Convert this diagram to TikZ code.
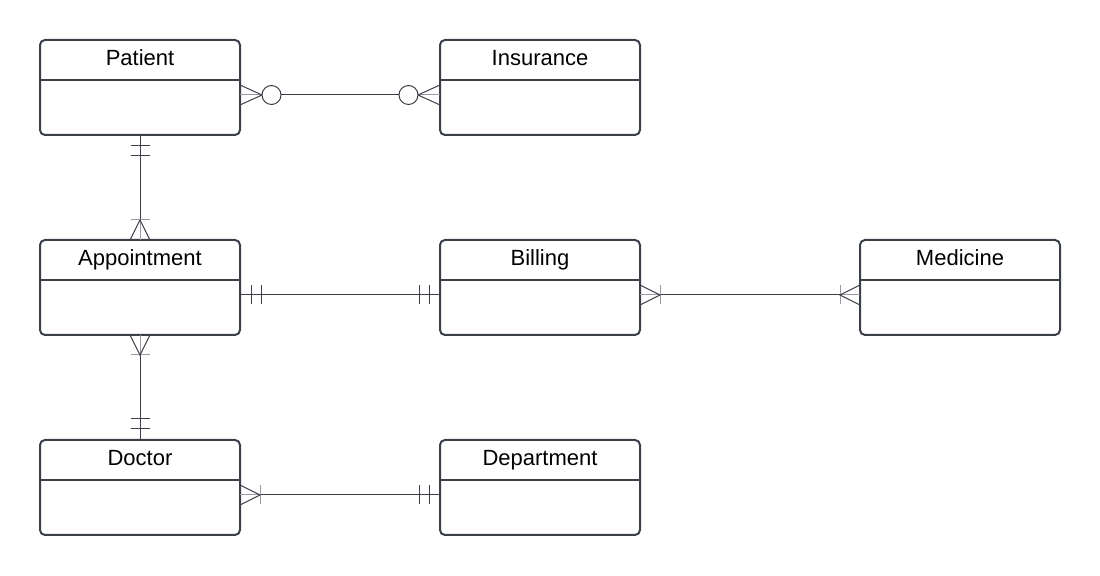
\documentclass[tikz,border=0pt]{standalone}
\usepackage{fontspec}
\setmainfont{Liberation Sans}
\usetikzlibrary{calc}
\definecolor{linegray}{HTML}{3A3F48}
\definecolor{footgray}{HTML}{9A9CA2}

\tikzset{
  entity/.style={draw=linegray, line width=1pt, rounded corners=2.5pt,
    minimum width=100pt, inner sep=0pt, outer sep=0pt,
    text height=13pt, text depth=34.5pt, font=\fontsize{11}{13}\selectfont,
    path picture={\draw[linegray, line width=1pt]
      ([yshift=-20pt]path picture bounding box.north west) --
      ([yshift=-20pt]path picture bounding box.north east);}},
  relline/.style={draw=linegray, line width=0.5pt},
  pics/onlyone/.style={code={
    \draw[relline] (11,-9.5) -- (11,9.5) (21,-9.5) -- (21,9.5);}},
  pics/onemany/.style={code={
    \draw[footgray, line width=0.5pt] (0,0) -- (20,0) (20,-9.5) -- (20,9.5);
    \draw[relline] (0,-10) -- (20,0) -- (0,10);}},
  pics/zeromany/.style={code={
    \draw[footgray, line width=0.5pt] (0,0) -- (22,0);
    \draw[relline] (0,-10) -- (22,0) -- (0,10);
    \draw[relline, fill=white] (31.5,0) circle[radius=9.5];}},
}

\begin{document}
\begin{tikzpicture}[x=0.5pt, y=-0.5pt]
    \useasboundingbox (0,0) rectangle (1100,576);
    \node[entity] at (140,87.5) (patient) {Patient};
    \node[entity] at (540,87.5) (insurance) {Insurance};
    \node[entity] at (140,287.5) (appointment) {Appointment};
    \node[entity] at (540,287.5) (billing) {Billing};
    \node[entity] at (960,287.5) (medicine) {Medicine};
    \node[entity] at (140,487.5) (doctor) {Doctor};
    \node[entity] at (540,487.5) (department) {Department};

    \draw[relline] ($(patient.east)+(0,7.5)$) -- ($(insurance.west)+(0,7.5)$);
    \draw[relline] (patient.south) -- (appointment.north);
    \draw[relline] ($(appointment.east)+(0,7.5)$) -- ($(billing.west)+(0,7.5)$);
    \draw[relline] ($(billing.east)+(0,7.5)$) -- ($(medicine.west)+(0,7.5)$);
    \draw[relline] (appointment.south) -- (doctor.north);
    \draw[relline] ($(doctor.east)+(0,7.5)$) -- ($(department.west)+(0,7.5)$);

    \pic at ($(patient.east)+(0,7.5)$) {zeromany};
    \pic[rotate=180] at ($(insurance.west)+(0,7.5)$) {zeromany};
    \pic[rotate=-90] at (patient.south) {onlyone};
    \pic[rotate=90] at (appointment.north) {onemany};
    \pic at ($(appointment.east)+(0,7.5)$) {onlyone};
    \pic[rotate=180] at ($(billing.west)+(0,7.5)$) {onlyone};
    \pic at ($(billing.east)+(0,7.5)$) {onemany};
    \pic[rotate=180] at ($(medicine.west)+(0,7.5)$) {onemany};
    \pic[rotate=-90] at (appointment.south) {onemany};
    \pic[rotate=90] at (doctor.north) {onlyone};
    \pic at ($(doctor.east)+(0,7.5)$) {onemany};
    \pic[rotate=180] at ($(department.west)+(0,7.5)$) {onlyone};
\end{tikzpicture}
\end{document}
